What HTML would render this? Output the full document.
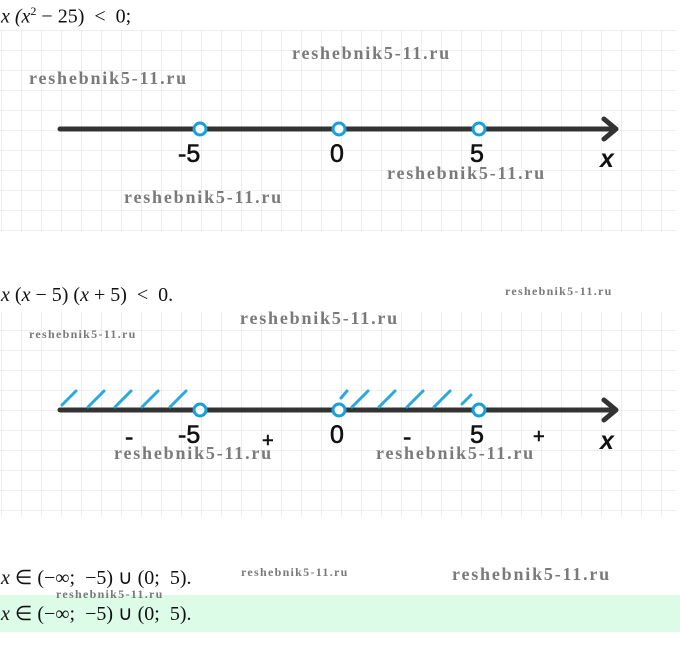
<!DOCTYPE html>
<html><head><meta charset="utf-8"><style>
body{margin:0;width:680px;height:666px;background:#fff;position:relative;overflow:hidden;font-family:"Liberation Serif",serif}
.t{position:absolute;font-size:20px;color:#111;white-space:nowrap}
.w{position:absolute;font-family:"Liberation Serif",serif;font-weight:bold;color:#7a7a7a;white-space:nowrap;font-size:18px;letter-spacing:1.8px}
.s{font-size:12px;letter-spacing:1.3px}
</style></head><body>
<svg width="680" height="666" style="position:absolute;left:0;top:0">
<defs>
<pattern id="g" width="20" height="20" patternUnits="userSpaceOnUse" x="1" y="10">
<path d="M0 0H20M0 0V20" stroke="#dedede" stroke-width="1" fill="none"/>
</pattern>
</defs>
<rect x="0" y="30" width="676" height="202" fill="url(#g)"/>
<rect x="0" y="312" width="676" height="204" fill="url(#g)"/>
<rect x="0" y="595" width="680" height="37" fill="#dcfce8"/>
<g stroke="#333" stroke-width="5" stroke-linecap="round" fill="none">
<line x1="60" y1="129" x2="614" y2="129"/>
<polyline points="604,119 616,129 604,139" stroke-linejoin="round"/>
<line x1="60" y1="410" x2="614" y2="410"/>
<polyline points="604,400 616,410 604,420" stroke-linejoin="round"/>
</g>
<g stroke="#29a9e0" stroke-width="3" stroke-linecap="round">
<line x1="62" y1="405" x2="76" y2="391"/>
<line x1="88" y1="407" x2="104" y2="391"/>
<line x1="115" y1="407" x2="131" y2="391"/>
<line x1="142" y1="407" x2="158" y2="391"/>
<line x1="170" y1="407" x2="186" y2="391"/>
<line x1="341" y1="398" x2="347" y2="391"/>
<line x1="352" y1="407" x2="368" y2="391"/>
<line x1="379" y1="407" x2="395" y2="391"/>
<line x1="407" y1="407" x2="423" y2="391"/>
<line x1="434" y1="407" x2="450" y2="391"/>
<line x1="462" y1="404" x2="471" y2="395"/>
</g>
<g fill="#fff" stroke="#1a9fdb" stroke-width="3">
<circle cx="200" cy="129" r="6"/><circle cx="339" cy="129" r="6"/><circle cx="479" cy="129" r="6"/>
<circle cx="200" cy="410" r="6"/><circle cx="339" cy="410" r="6"/><circle cx="479" cy="410" r="6"/>
</g>
<g font-family="Liberation Sans,sans-serif" font-size="25" fill="#111" stroke="#111" stroke-width="0.6">
<text x="178" y="162">-5</text><text x="330" y="162">0</text><text x="470" y="162">5</text>
<text x="600" y="167" font-style="italic" font-weight="bold" stroke="none">x</text>
<text x="178" y="443">-5</text><text x="330" y="443">0</text><text x="470" y="443">5</text>
<text x="600" y="449" font-style="italic" font-weight="bold" stroke="none">x</text>
<text x="125" y="445">-</text><text x="403" y="445">-</text>
<text x="262" y="447" font-size="20">+</text><text x="533" y="443" font-size="20">+</text>
</g>
</svg>
<div class="t" style="left:1px;top:4px;font-style:italic">x (x<sup style="font-size:12px;font-style:normal">2</sup> <span style="font-style:normal">− 25)&nbsp; &lt;&nbsp; 0;</span></div>
<div class="t" style="left:1px;top:284px"><i>x</i> (<i>x</i> − 5) (<i>x</i> + 5)&nbsp; &lt;&nbsp; 0.</div>
<div class="t" style="left:1px;top:565px"><i>x</i> ∈ (−∞;&nbsp; −5) ∪ (0;&nbsp; 5).</div>
<div class="t" style="left:1px;top:601px"><i>x</i> ∈ (−∞;&nbsp; −5) ∪ (0;&nbsp; 5).</div>
<div class="w" style="left:292px;top:43px">reshebnik5-11.ru</div>
<div class="w" style="left:29px;top:68px">reshebnik5-11.ru</div>
<div class="w" style="left:387px;top:163px">reshebnik5-11.ru</div>
<div class="w" style="left:124px;top:187px">reshebnik5-11.ru</div>
<div class="w s" style="left:505px;top:284px">reshebnik5-11.ru</div>
<div class="w" style="left:240px;top:308px">reshebnik5-11.ru</div>
<div class="w s" style="left:29px;top:327px">reshebnik5-11.ru</div>
<div class="w" style="left:114px;top:443px">reshebnik5-11.ru</div>
<div class="w" style="left:376px;top:443px">reshebnik5-11.ru</div>
<div class="w s" style="left:241px;top:565px">reshebnik5-11.ru</div>
<div class="w" style="left:452px;top:564px">reshebnik5-11.ru</div>
<div class="w s" style="left:56px;top:587px">reshebnik5-11.ru</div>
</body></html>
